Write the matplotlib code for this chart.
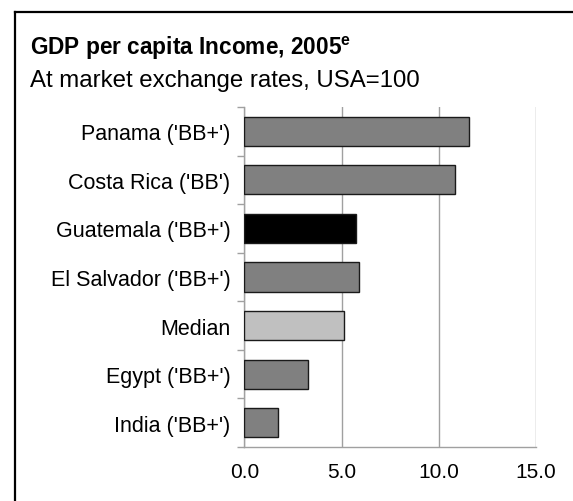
import matplotlib

matplotlib.use("Agg")

import matplotlib.pyplot as plt
from matplotlib.lines import Line2D
from matplotlib.ticker import FixedLocator

plt.rcParams["font.family"] = ["Liberation Sans", "DejaVu Sans"]
plt.rcParams["mathtext.fontset"] = "custom"
plt.rcParams["mathtext.rm"] = "Liberation Sans"
plt.rcParams["mathtext.bf"] = "Liberation Sans:bold"

# data, top to bottom
countries = [
    "Panama ('BB+')",
    "Costa Rica ('BB')",
    "Guatemala ('BB+')",
    "El Salvador ('BB+')",
    "Median",
    "Egypt ('BB+')",
    "India ('BB+')",
]
gdp_share = [11.55, 10.85, 5.75, 5.9, 5.1, 3.25, 1.75]
bar_colors = ["#808080", "#808080", "#000000", "#808080", "#c0c0c0", "#808080", "#808080"]
x_ticks = [0, 5, 10, 15]

GRID = "#a0a0a0"

fig = plt.figure(figsize=(5.73, 5.02), dpi=100)
ax = fig.add_axes([0.4267, 0.1076, 0.5086, 0.6774])

ypos = list(range(len(countries)))
ax.barh(ypos, gdp_share, height=0.6, color=bar_colors,
        edgecolor="#1a1a1a", linewidth=1.0, zorder=3)

ax.set_xlim(0, 15)
ax.set_ylim(len(countries) - 0.5, -0.5)
ax.set_xticks(x_ticks)
ax.set_xticklabels([f"{t:.1f}" for t in x_ticks])
ax.set_yticks(ypos)
ax.set_yticklabels(countries)
ax.yaxis.set_minor_locator(FixedLocator([i - 0.5 for i in range(len(countries) + 1)]))

ax.tick_params(axis="y", which="major", length=0, pad=10, labelsize=15.5)
ax.tick_params(axis="y", which="minor", length=5, width=1, color=GRID)
ax.tick_params(axis="x", length=0, pad=11, labelsize=15)

ax.grid(axis="x", color=GRID, linewidth=1, zorder=0)
for side in ["top", "right"]:
    ax.spines[side].set_visible(False)
for side in ["left", "bottom"]:
    ax.spines[side].set_color(GRID)
    ax.spines[side].set_linewidth(1)

fig.text(0.052, 0.890, r"GDP per capita Income, 2005$^{\mathbf{e}}$",
         fontsize=16.3, fontweight="bold", ha="left", va="baseline")
fig.text(0.052, 0.827, "At market exchange rates, USA=100",
         fontsize=17.3, ha="left", va="baseline")

# outer frame (only left and top edges fall inside the picture)
fig.add_artist(Line2D([15 / 573, 15 / 573], [0, 1 - 13 / 502], color="black",
                      linewidth=1.6, transform=fig.transFigure))
fig.add_artist(Line2D([15 / 573, 1], [1 - 13 / 502, 1 - 13 / 502], color="black",
                      linewidth=1.6, transform=fig.transFigure))

fig.savefig("out.png", dpi=100)
